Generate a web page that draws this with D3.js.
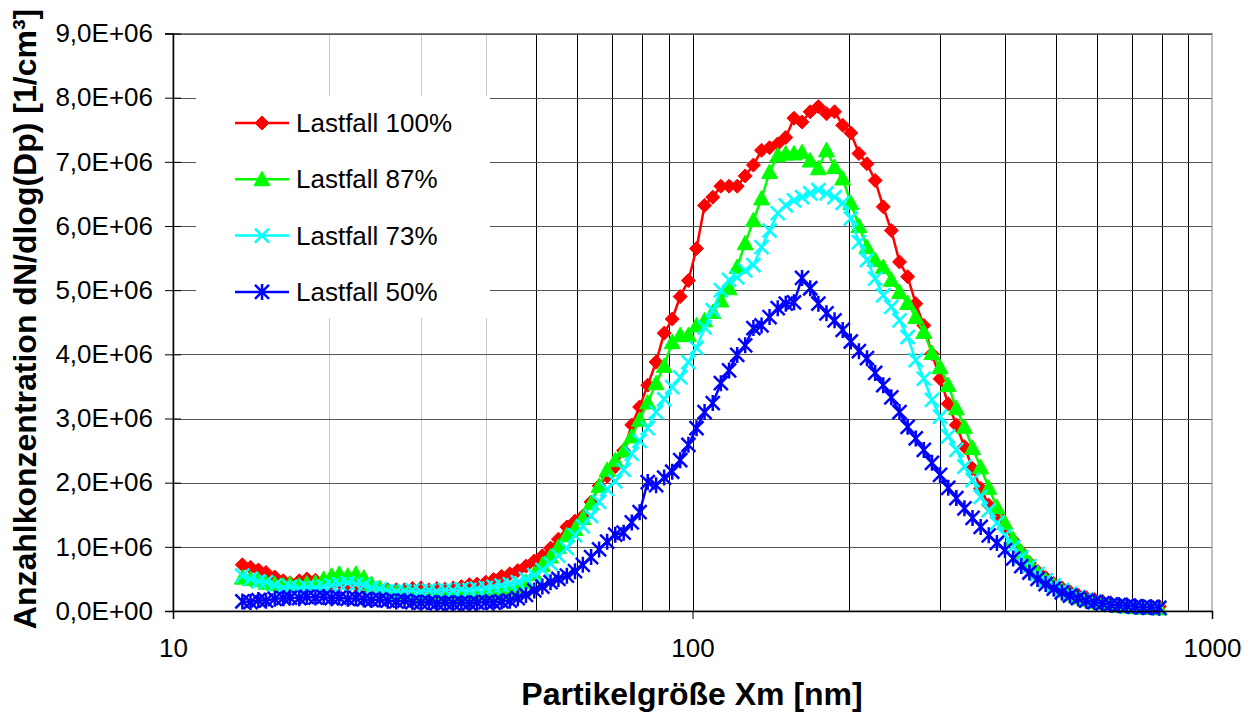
<!DOCTYPE html>
<html>
<head>
<meta charset="utf-8">
<script src="https://cdn.jsdelivr.net/npm/d3@7"></script>
<style>
  body { margin: 0; background: #fff; }
  text { font-family: Arial, "Liberation Sans", sans-serif; }
</style>
</head>
<body>
<div id="chart"></div>
<script>
// Particle diameters [nm] (SMPS channels)
var diameters = [13.6,14.1,14.6,15.1,15.7,16.3,16.8,17.5,18.1,18.8,
  19.5,20.2,20.9,21.7,22.5,23.3,24.1,25.0,25.9,26.9,
  27.9,28.9,30.0,31.1,32.2,33.4,34.6,35.9,37.2,38.5,
  40.0,41.4,42.9,44.5,46.1,47.8,49.6,51.4,53.3,55.2,
  57.3,59.4,61.5,63.8,66.1,68.5,71.0,73.7,76.4,79.1,
  82.0,85.1,88.2,91.4,94.7,98.2,101.8,105.5,109.4,113.4,
  117.6,121.9,126.3,131.0,135.8,140.7,145.9,151.2,156.8,162.5,
  168.5,174.7,181.1,187.7,194.6,201.7,209.1,216.7,224.7,232.9,
  241.4,250.3,259.5,269.0,278.8,289.0,299.6,310.6,322.0,333.8,
  346.0,358.7,371.8,385.4,399.5,414.2,429.4,445.1,461.4,478.3,
  495.8,514.0,532.8,552.3,572.5,593.5,615.3,637.8,661.2,685.4,
  710.5,736.5,763.5,791.5];

// dN/dlog(Dp) in units of 1E+06 1/cm3
var last100 = [0.72,0.68,0.64,0.60,0.53,0.47,0.44,0.47,0.50,0.48,
  0.46,0.43,0.45,0.42,0.40,0.37,0.36,0.35,0.33,0.33,
  0.33,0.35,0.36,0.33,0.35,0.34,0.36,0.38,0.41,0.42,
  0.45,0.49,0.54,0.58,0.63,0.70,0.78,0.86,0.98,1.12,
  1.31,1.40,1.48,1.70,1.95,2.10,2.25,2.50,2.90,3.18,
  3.52,3.88,4.33,4.55,4.90,5.15,5.65,6.32,6.45,6.62,
  6.62,6.62,6.78,6.95,7.18,7.22,7.28,7.38,7.68,7.62,
  7.78,7.86,7.75,7.78,7.57,7.45,7.13,6.97,6.71,6.30,
  5.93,5.44,5.21,4.79,4.45,4.01,3.62,3.23,2.90,2.56,
  2.22,1.91,1.65,1.50,1.30,1.10,0.92,0.75,0.62,0.52,
  0.43,0.36,0.30,0.25,0.21,0.18,0.15,0.13,0.11,0.10,
  0.09,0.08,0.07,0.07];

var last87 = [0.52,0.50,0.48,0.44,0.42,0.40,0.42,0.40,0.43,0.44,
  0.50,0.55,0.58,0.55,0.58,0.52,0.42,0.36,0.30,0.28,
  0.25,0.24,0.22,0.24,0.20,0.22,0.19,0.22,0.20,0.23,
  0.24,0.26,0.28,0.30,0.36,0.45,0.58,0.72,0.85,1.00,
  1.18,1.28,1.45,1.68,1.95,2.20,2.35,2.50,2.72,2.98,
  3.25,3.55,3.82,4.19,4.30,4.30,4.45,4.53,4.66,4.84,
  5.03,5.36,5.73,6.09,6.43,6.84,7.10,7.13,7.13,7.15,
  7.02,6.90,7.18,6.92,6.74,6.36,6.00,5.67,5.47,5.36,
  5.16,4.97,4.80,4.58,4.35,4.02,3.80,3.52,3.16,2.87,
  2.54,2.24,1.92,1.62,1.37,1.12,0.92,0.75,0.60,0.48,
  0.40,0.32,0.26,0.21,0.17,0.14,0.12,0.10,0.08,0.07,
  0.06,0.05,0.05,0.04];

var last73 = [0.55,0.50,0.46,0.45,0.40,0.36,0.38,0.35,0.37,0.36,
  0.38,0.40,0.42,0.44,0.42,0.40,0.36,0.34,0.31,0.30,
  0.31,0.32,0.30,0.32,0.31,0.33,0.32,0.34,0.33,0.35,
  0.36,0.38,0.40,0.42,0.45,0.50,0.56,0.64,0.74,0.86,
  0.98,1.18,1.32,1.48,1.70,1.90,2.02,2.20,2.45,2.65,
  2.85,3.10,3.30,3.49,3.64,3.88,4.10,4.42,4.69,5.00,
  5.16,5.20,5.31,5.39,5.67,5.93,6.20,6.32,6.40,6.45,
  6.51,6.56,6.51,6.45,6.36,6.12,5.75,5.47,5.18,4.92,
  4.74,4.53,4.27,3.91,3.62,3.29,3.03,2.72,2.51,2.25,
  2.04,1.78,1.57,1.37,1.18,1.00,0.84,0.70,0.58,0.48,
  0.40,0.33,0.27,0.22,0.18,0.15,0.12,0.10,0.09,0.08,
  0.07,0.06,0.06,0.05];

var last50 = [0.15,0.14,0.17,0.16,0.19,0.20,0.21,0.20,0.22,0.21,
  0.22,0.20,0.21,0.19,0.20,0.18,0.17,0.18,0.16,0.15,
  0.16,0.14,0.13,0.14,0.12,0.13,0.12,0.13,0.12,0.13,
  0.14,0.13,0.15,0.16,0.20,0.25,0.32,0.38,0.45,0.50,
  0.55,0.62,0.72,0.84,0.96,1.08,1.19,1.22,1.38,1.54,
  2.01,1.96,2.08,2.17,2.35,2.59,2.85,3.10,3.24,3.55,
  3.75,3.99,4.14,4.41,4.45,4.58,4.72,4.79,4.81,5.19,
  5.03,4.79,4.64,4.53,4.38,4.20,4.05,3.94,3.71,3.52,
  3.33,3.10,2.87,2.69,2.51,2.31,2.12,1.92,1.76,1.60,
  1.45,1.31,1.18,1.06,0.95,0.82,0.70,0.60,0.50,0.42,
  0.35,0.29,0.24,0.20,0.16,0.14,0.12,0.10,0.09,0.08,
  0.07,0.06,0.06,0.05];

var seriesNames = ["Lastfall 100%", "Lastfall 87%", "Lastfall 73%", "Lastfall 50%"];
var yTicks = [0,1,2,3,4,5,6,7,8,9];
var xTicks = [10, 100, 1000];

var width = 1251, height = 714;
var plotLeft = 173, plotRight = 1212, plotTop = 33.5, plotBottom = 611;

var svg = d3.select("#chart").append("svg")
    .attr("width", width)
    .attr("height", height);

var x = d3.scaleLog().domain([10, 1000]).range([plotLeft, plotRight]);
var y = d3.scaleLinear().domain([0, 9]).range([plotBottom, plotTop]);

// series styles
var styles = [
  { color: "#ff0000", marker: "M0,-7L7,0L0,7L-7,0Z", fill: true },
  { color: "#00ff00", marker: "M0,-8L8,6.5L-8,6.5Z", fill: true },
  { color: "#00ffff", marker: "M-7,-7L7,7M-7,7L7,-7", fill: false },
  { color: "#0000ff", marker: "M-7,-7L7,7M-7,7L7,-7M0,-8L0,8", fill: false }
];
var allSeries = [last100, last87, last73, last50];

// grid
var grid = svg.append("g");
var minorX = [];
[10, 100].forEach(function (dec) {
  for (var k = 2; k <= 9; k++) minorX.push(dec * k);
});
grid.selectAll(".vgrid")
    .data(minorX.concat([100]))
    .enter().append("line")
    .attr("x1", d => Math.round(x(d)) + 0.5)
    .attr("x2", d => Math.round(x(d)) + 0.5)
    .attr("y1", plotTop)
    .attr("y2", plotBottom)
    .attr("stroke", d => (d < 50 ? "#c8c8c8" : "#000"))
    .attr("stroke-width", 1);

grid.selectAll(".hgrid")
    .data(yTicks.slice(1))
    .enter().append("line")
    .attr("x1", plotLeft)
    .attr("x2", plotRight)
    .attr("y1", d => Math.round(y(d)) + 0.5)
    .attr("y2", d => Math.round(y(d)) + 0.5)
    .attr("stroke", "#555")
    .attr("stroke-width", 1);

// plot frame
svg.append("rect")
    .attr("x", plotLeft).attr("y", plotTop)
    .attr("width", plotRight - plotLeft).attr("height", plotBottom - plotTop)
    .attr("fill", "none").attr("stroke", "#808080");

// legend background hides the grid
svg.append("rect")
    .attr("x", 196).attr("y", 96)
    .attr("width", 294).attr("height", 222)
    .attr("fill", "#fff");

// series
var line = d3.line()
    .x((d, i) => x(diameters[i]))
    .y(d => y(d));

allSeries.forEach(function (vals, s) {
  var st = styles[s];
  var g = svg.append("g");
  g.append("path")
      .datum(vals)
      .attr("d", line)
      .attr("fill", "none")
      .attr("stroke", st.color)
      .attr("stroke-width", 2.5);
  g.selectAll("path.mk")
      .data(vals)
      .enter().append("path")
      .attr("class", "mk")
      .attr("transform", (d, i) => "translate(" + x(diameters[i]) + "," + y(d) + ")")
      .attr("d", st.marker)
      .attr("fill", st.fill ? st.color : "none")
      .attr("stroke", st.color)
      .attr("stroke-width", st.fill ? 1 : 2.5);
});

// axes
var fmtY = function (d) {
  return d === 0 ? "0,0E+00" : d.toFixed(1).replace(".", ",") + "E+06";
};
var yAxis = svg.append("g")
    .attr("transform", "translate(" + plotLeft + ",0)")
    .call(d3.axisLeft(y).tickValues(yTicks).tickFormat(fmtY).tickSize(8).tickPadding(12));
yAxis.selectAll(".tick line").attr("x2", -8).attr("x1", 8).attr("stroke", "#000");
yAxis.select(".domain").attr("stroke", "#000").attr("stroke-width", 1.5);
yAxis.selectAll("text").attr("font-size", 26).attr("fill", "#000")
    .style("font-family", "Arial, 'Liberation Sans', sans-serif");

var xAxis = svg.append("g")
    .attr("transform", "translate(0," + plotBottom + ")")
    .call(d3.axisBottom(x).tickValues(xTicks).tickFormat(d3.format("d")).tickSize(8).tickPadding(20));
xAxis.select(".domain").attr("stroke", "#000").attr("stroke-width", 1.5);
xAxis.selectAll(".tick line").attr("stroke", "#000");
xAxis.selectAll("text").attr("font-size", 26).attr("fill", "#000")
    .style("font-family", "Arial, 'Liberation Sans', sans-serif");

// axis titles
svg.append("text")
    .attr("x", 692).attr("y", 705)
    .attr("text-anchor", "middle")
    .attr("font-size", 32).attr("font-weight", "bold")
    .text("Partikelgröße Xm [nm]");

svg.append("text")
    .attr("transform", "translate(36,319) rotate(-90)")
    .attr("text-anchor", "middle")
    .attr("font-size", 32).attr("font-weight", "bold")
    .text("Anzahlkonzentration dN/dlog(Dp) [1/cm³]");

// legend
var legend = svg.append("g");
seriesNames.forEach(function (name, s) {
  var st = styles[s];
  var ly = 123 + s * 56.3;
  legend.append("line")
      .attr("x1", 235).attr("x2", 289)
      .attr("y1", ly).attr("y2", ly)
      .attr("stroke", st.color).attr("stroke-width", 2.5);
  legend.append("path")
      .attr("transform", "translate(262," + ly + ")")
      .attr("d", st.marker)
      .attr("fill", st.fill ? st.color : "none")
      .attr("stroke", st.color)
      .attr("stroke-width", st.fill ? 1 : 2.5);
  legend.append("text")
      .attr("x", 296).attr("y", ly + 9)
      .attr("font-size", 26)
      .text(name);
});
</script>
</body>
</html>
